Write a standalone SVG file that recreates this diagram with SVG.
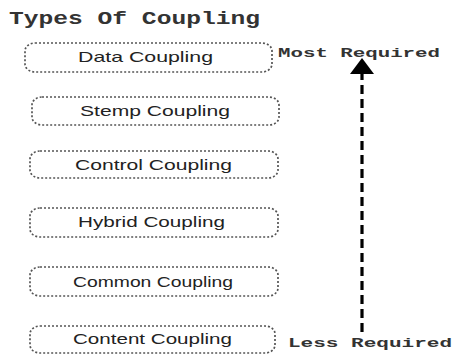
<svg xmlns="http://www.w3.org/2000/svg" width="452" height="354" viewBox="0 0 452 354">
<style>
.box{fill:#fff;stroke:#555;stroke-width:1.7;stroke-dasharray:2 2}
.lbl{font-family:"Liberation Sans",Arial,sans-serif;font-size:15px;fill:#222;text-anchor:start}
.mono{font-family:"Liberation Mono","Courier New",monospace;font-weight:bold;fill:#333}
</style>
<rect width="452" height="354" fill="#fff"/>
<text class="mono" x="9" y="24" font-size="18" textLength="251" lengthAdjust="spacingAndGlyphs">Types Of Coupling</text>
<g id="data"><rect class="box" x="25" y="43" width="247" height="29" rx="10" ry="8"/><text class="lbl" x="78" y="62" textLength="135" lengthAdjust="spacingAndGlyphs">Data Coupling</text></g>
<g id="stemp"><rect class="box" x="32" y="97" width="247" height="28" rx="10" ry="8"/><text class="lbl" x="80" y="116" textLength="150" lengthAdjust="spacingAndGlyphs">Stemp Coupling</text></g>
<g id="control"><rect class="box" x="30" y="151" width="248" height="27" rx="10" ry="8"/><text class="lbl" x="75" y="170" textLength="157" lengthAdjust="spacingAndGlyphs">Control Coupling</text></g>
<g id="hybrid"><rect class="box" x="30" y="208" width="248" height="29" rx="10" ry="8"/><text class="lbl" x="78" y="227" textLength="147" lengthAdjust="spacingAndGlyphs">Hybrid Coupling</text></g>
<g id="common"><rect class="box" x="30" y="267" width="248" height="29" rx="10" ry="8"/><text class="lbl" x="73" y="287" textLength="160" lengthAdjust="spacingAndGlyphs">Common Coupling</text></g>
<g id="content"><rect class="box" x="30" y="326" width="245" height="27" rx="10" ry="8"/><text class="lbl" x="73" y="344" textLength="159" lengthAdjust="spacingAndGlyphs">Content Coupling</text></g>
<g id="most"><text class="mono" x="278" y="57" font-size="13" textLength="162" lengthAdjust="spacingAndGlyphs">Most Required</text></g>
<g id="less"><text class="mono" x="288" y="347" font-size="13" textLength="164" lengthAdjust="spacingAndGlyphs">Less Required</text></g>
<g id="connectors">
<line x1="362" y1="332" x2="362" y2="74" stroke="#000" stroke-width="3.2" stroke-dasharray="9 5"/>
<path d="M362,58 L374,74 L350,74 Z" fill="#000"/>
</g>
</svg>
